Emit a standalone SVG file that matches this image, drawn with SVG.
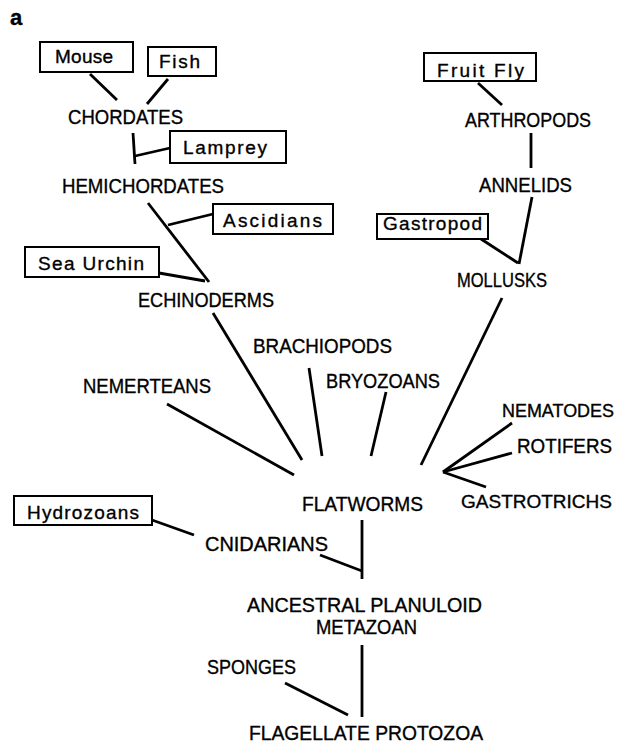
<svg xmlns="http://www.w3.org/2000/svg" width="618" height="744" viewBox="0 0 618 744">
<style>
text{font-family:"Liberation Sans","DejaVu Sans",sans-serif;font-size:20px;fill:#000;stroke:#000;stroke-width:0.35}
.box text{font-size:19px}
.edge text{font-size:18px}
.box rect{fill:#fff;stroke:#000;stroke-width:2}
#connectors line{stroke:#000;stroke-width:2.8;stroke-linecap:butt}
</style>
<rect width="618" height="744" fill="#fff"/>
<text x="10" y="25" style="font-weight:bold;font-size:22px">a</text>
<g id="connectors">
<line x1="90" y1="74" x2="117" y2="100"/>
<line x1="168" y1="79" x2="147" y2="104"/>
<line x1="133" y1="133" x2="135" y2="164"/>
<line x1="135" y1="156" x2="170" y2="148"/>
<line x1="148" y1="203" x2="209" y2="282"/>
<line x1="168" y1="225" x2="213" y2="214"/>
<line x1="159" y1="273" x2="205" y2="281"/>
<line x1="478" y1="83" x2="502" y2="105"/>
<line x1="531" y1="133" x2="531" y2="168"/>
<line x1="532" y1="197" x2="519" y2="264"/>
<line x1="481" y1="239" x2="518" y2="263"/>
<line x1="213" y1="313" x2="302" y2="460"/>
<line x1="167" y1="404" x2="294" y2="475"/>
<line x1="309" y1="368" x2="322" y2="456"/>
<line x1="386" y1="392" x2="371" y2="456"/>
<line x1="502" y1="298" x2="421" y2="465"/>
<line x1="443" y1="472" x2="512" y2="423"/>
<line x1="443" y1="472" x2="512" y2="453"/>
<line x1="443" y1="472" x2="486" y2="487"/>
<line x1="152" y1="520" x2="194" y2="535"/>
<line x1="362" y1="520" x2="362" y2="579"/>
<line x1="320" y1="555" x2="362" y2="571"/>
<line x1="362" y1="645" x2="362" y2="717"/>
<line x1="285" y1="683" x2="348" y2="715"/>
</g>
<g id="mouse" class="box"><rect x="40" y="42" width="93" height="30"/><text x="55" y="63" textLength="58" lengthAdjust="spacing">Mouse</text></g>
<g id="fish" class="box"><rect x="148" y="47" width="68" height="29"/><text x="159" y="68" textLength="41" lengthAdjust="spacing">Fish</text></g>
<g id="chordates"><text x="68" y="124" textLength="115" lengthAdjust="spacingAndGlyphs">CHORDATES</text></g>
<g id="lamprey" class="box"><rect x="170" y="131" width="116" height="32"/><text x="183" y="154" textLength="84" lengthAdjust="spacing">Lamprey</text></g>
<g id="hemichordates"><text x="62" y="193" textLength="162" lengthAdjust="spacingAndGlyphs">HEMICHORDATES</text></g>
<g id="ascidians" class="box"><rect x="213" y="204" width="120" height="30"/><text x="223" y="227" textLength="99" lengthAdjust="spacing">Ascidians</text></g>
<g id="sea-urchin" class="box"><rect x="25" y="247" width="134" height="30"/><text x="38" y="270" textLength="106" lengthAdjust="spacing">Sea Urchin</text></g>
<g id="echinoderms"><text x="138" y="307" textLength="136" lengthAdjust="spacingAndGlyphs">ECHINODERMS</text></g>
<g id="fruit-fly" class="box"><rect x="424" y="53" width="112" height="28"/><text x="437" y="77" textLength="87" lengthAdjust="spacing">Fruit Fly</text></g>
<g id="arthropods"><text x="465" y="127" textLength="126" lengthAdjust="spacingAndGlyphs">ARTHROPODS</text></g>
<g id="annelids"><text x="479" y="192" textLength="93" lengthAdjust="spacingAndGlyphs">ANNELIDS</text></g>
<g id="gastropod" class="box"><rect x="377" y="214" width="111" height="25"/><text x="383" y="230" textLength="99" lengthAdjust="spacing">Gastropod</text></g>
<g id="mollusks"><text x="457" y="287" textLength="90" lengthAdjust="spacingAndGlyphs">MOLLUSKS</text></g>
<g id="brachiopods"><text x="253" y="353" textLength="139" lengthAdjust="spacingAndGlyphs">BRACHIOPODS</text></g>
<g id="nemerteans"><text x="83" y="393" textLength="128" lengthAdjust="spacingAndGlyphs">NEMERTEANS</text></g>
<g id="bryozoans"><text x="326" y="388" textLength="114" lengthAdjust="spacingAndGlyphs">BRYOZOANS</text></g>
<g id="nematodes" class="edge"><text x="502" y="417" textLength="112" lengthAdjust="spacingAndGlyphs">NEMATODES</text></g>
<g id="rotifers"><text x="517" y="453" textLength="95" lengthAdjust="spacingAndGlyphs">ROTIFERS</text></g>
<g id="gastrotrichs" class="edge"><text x="461" y="508" textLength="151" lengthAdjust="spacingAndGlyphs">GASTROTRICHS</text></g>
<g id="flatworms"><text x="302" y="511" textLength="121" lengthAdjust="spacingAndGlyphs">FLATWORMS</text></g>
<g id="hydrozoans" class="box"><rect x="14" y="496" width="138" height="29"/><text x="27" y="519" textLength="112" lengthAdjust="spacing">Hydrozoans</text></g>
<g id="cnidarians"><text x="205" y="551" textLength="123" lengthAdjust="spacingAndGlyphs">CNIDARIANS</text></g>
<g id="ancestral"><text x="247" y="612" textLength="235" lengthAdjust="spacingAndGlyphs">ANCESTRAL PLANULOID</text><text x="316" y="634" textLength="101" lengthAdjust="spacingAndGlyphs">METAZOAN</text></g>
<g id="sponges"><text x="207" y="674" textLength="89" lengthAdjust="spacingAndGlyphs">SPONGES</text></g>
<g id="flagellate"><text x="249" y="740" textLength="234" lengthAdjust="spacingAndGlyphs">FLAGELLATE PROTOZOA</text></g>
</svg>
